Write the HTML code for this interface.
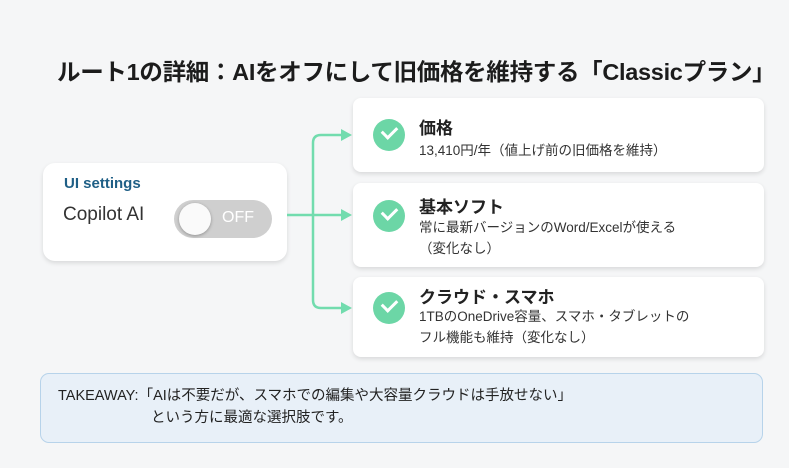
<!DOCTYPE html>
<html><head><meta charset="utf-8"><style>
body{margin:0;width:789px;height:468px;background:#f5f6f7;font-family:"Liberation Sans","Noto Sans CJK JP",sans-serif;position:relative;overflow:hidden;color:#222}
.t{position:absolute;left:57px;top:53px;font-size:23.5px;font-weight:bold;color:#1c1c1c;white-space:nowrap;letter-spacing:-0.3px}
.card{position:absolute;background:#fff;border-radius:8px;box-shadow:0 2px 5px rgba(0,0,0,0.12)}
.chk{position:absolute;left:20px;width:32px;height:32px;border-radius:50%;background:#6cd6a6}
.chk:after{content:"";position:absolute;left:9px;top:7px;width:12px;height:7px;border-left:3px solid #fff;border-bottom:3px solid #fff;transform:rotate(-45deg)}
.h{position:absolute;left:66px;font-size:17px;font-weight:bold;color:#222}
.d{position:absolute;left:66px;font-size:13.5px;color:#333;line-height:21px;white-space:nowrap}
</style></head><body>
<div class="t">ルート1の詳細：AIをオフにして旧価格を維持する「Classicプラン」</div>
<div class="card" style="left:43px;top:163px;width:244px;height:98px;border-radius:12px">
<div style="position:absolute;left:21px;top:12px;font-size:15px;font-weight:bold;color:#1f5f86">UI settings</div>
<div style="position:absolute;left:20px;top:41px;font-size:19px;color:#333">Copilot AI</div>
<div style="position:absolute;left:131px;top:37px;width:98px;height:38px;border-radius:19px;background:#cfcfcf">
<div style="position:absolute;left:5px;top:3px;width:32px;height:32px;border-radius:50%;background:#fafafa;box-shadow:0 1px 3px rgba(0,0,0,0.3)"></div>
<div style="position:absolute;left:48px;top:9px;font-size:16px;color:#fff">OFF</div></div>
</div>
<svg style="position:absolute;left:0;top:0" width="789" height="468">
<g stroke="#72dcae" stroke-width="2.5" fill="none">
<path d="M287 215H313M313 215V143Q313 135 321 135H342M313 215H342M313 215V300Q313 308 321 308H342"/></g>
<g fill="#72dcae"><path d="M352 135l-11-6v12z"/><path d="M352 215l-11-6v12z"/><path d="M352 308l-11-6v12z"/></g>
</svg>
<div class="card" style="left:353px;top:98px;width:411px;height:74px">
<div class="chk" style="top:21px"></div>
<div class="h" style="top:16px">価格</div>
<div class="d" style="top:42px">13,410円/年（値上げ前の旧価格を維持）</div></div>
<div class="card" style="left:353px;top:183px;width:411px;height:84px">
<div class="chk" style="top:17px"></div>
<div class="h" style="top:10px">基本ソフト</div>
<div class="d" style="top:34px">常に最新バージョンのWord/Excelが使える<br>（変化なし）</div></div>
<div class="card" style="left:353px;top:277px;width:411px;height:80px">
<div class="chk" style="top:15px"></div>
<div class="h" style="top:6px">クラウド・スマホ</div>
<div class="d" style="top:29px">1TBのOneDrive容量、スマホ・タブレットの<br>フル機能も維持（変化なし）</div></div>
<div style="position:absolute;left:40px;top:373px;width:721px;height:68px;border:1.5px solid #b7d3ea;border-radius:9px;background:#e8f0f8"></div>
<div style="position:absolute;left:58px;top:385px;font-size:14.5px;color:#222;line-height:22px;white-space:nowrap">TAKEAWAY:「AIは不要だが、スマホでの編集や大容量クラウドは手放せない」<br><span style="padding-left:93px">という方に最適な選択肢です。</span></div>
</body></html>
